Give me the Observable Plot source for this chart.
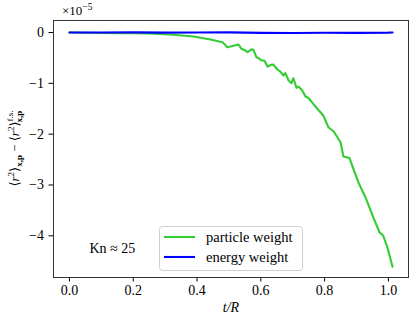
<!DOCTYPE html>
<html>
<head>
<meta charset="utf-8">
<script src="https://cdn.jsdelivr.net/npm/d3@7"></script>
<script src="https://cdn.jsdelivr.net/npm/@observablehq/plot@0.6"></script>
<style>
  html, body { margin: 0; padding: 0; background: #fff; }
  svg { display: block; }
  svg text { font-family: "Liberation Serif", "DejaVu Serif", serif !important; }
</style>
</head>
<body>
<div id="chart"></div>
<script>
// particle weight (green), values in units of 1e-5
const tParticle = [0, 0.05, 0.10, 0.15, 0.20, 0.25, 0.28, 0.326, 0.389, 0.442, 0.480, 0.495, 0.514, 0.530, 0.539, 0.552, 0.558, 0.571, 0.577, 0.586, 0.592, 0.602, 0.611, 0.621, 0.633, 0.639, 0.652, 0.661, 0.671, 0.677, 0.687, 0.696, 0.702, 0.712, 0.718, 0.730, 0.740, 0.749, 0.762, 0.777, 0.796, 0.812, 0.828, 0.840, 0.850, 0.859, 0.878, 0.890, 0.906, 0.928, 0.953, 0.972, 0.984, 0.997, 1.013];
const vParticle = [0, -0.005, -0.01, -0.012, -0.015, -0.02, -0.03, -0.045, -0.079, -0.138, -0.19, -0.29, -0.26, -0.236, -0.32, -0.354, -0.388, -0.33, -0.34, -0.486, -0.50, -0.55, -0.55, -0.67, -0.636, -0.63, -0.728, -0.768, -0.846, -0.80, -0.945, -0.998, -0.90, -1.089, -1.063, -1.142, -1.26, -1.285, -1.384, -1.50, -1.634, -1.864, -1.943, -2.06, -2.16, -2.44, -2.47, -2.68, -2.95, -3.24, -3.64, -3.93, -4.00, -4.23, -4.61];
// energy weight (blue)
const tEnergy = [0, 0.1, 0.2, 0.3, 0.4, 0.5, 0.6, 0.7, 0.8, 0.9, 1.0, 1.013];
const vEnergy = [0, 0, 0.002, -0.002, 0, 0.002, -0.008, -0.01, -0.006, -0.008, -0.003, 0];

const xTicks = [0, 0.2, 0.4, 0.6, 0.8, 1.0];
const yTicks = [0, -1, -2, -3, -4];
const seriesNames = ["particle weight", "energy weight"];
const seriesColors = ["#33cc33", "#0000ff"];

const particle = tParticle.map((t, i) => ({t, v: vParticle[i]}));
const energy = tEnergy.map((t, i) => ({t, v: vEnergy[i]}));

const FONT = "'Liberation Serif', 'DejaVu Serif', serif";

const svg = Plot.plot({
  width: 415,
  height: 322,
  marginLeft: 53,
  marginRight: 7,
  marginTop: 20,
  marginBottom: 45,
  style: {fontFamily: FONT, fontSize: "14px", background: "#fff", color: "#000"},
  x: {domain: [-0.05, 1.063]},
  y: {domain: [-4.82, 0.236]},
  marks: [
    Plot.axisX({ticks: xTicks, tickFormat: d => d.toFixed(1), tickSize: 4.5, tickPadding: 3, label: null, fontSize: 14}),
    Plot.axisY({ticks: yTicks, tickFormat: d => d === 0 ? "0" : "\u2212" + Math.abs(d), tickSize: 4.5, tickPadding: 5, label: null, fontSize: 14}),
    Plot.line(particle, {x: "t", y: "v", stroke: seriesColors[0], strokeWidth: 2.1}),
    Plot.line(energy, {x: "t", y: "v", stroke: seriesColors[1], strokeWidth: 2.1}),
    Plot.frame({stroke: "#333", strokeWidth: 1}),
    Plot.text(["Kn \u2248 25"], {frameAnchor: "bottom-left", dx: 36, dy: -29, textAnchor: "start", lineAnchor: "middle", fontSize: 14}),
    Plot.text(["t/R"], {frameAnchor: "bottom", dy: 30, lineAnchor: "middle", fontStyle: "italic", fontSize: 14})
  ]
});

document.getElementById("chart").appendChild(svg);

const s = d3.select(svg);

// offset text ×10^-5
const off = s.append("text").attr("x", 62).attr("y", 15).attr("text-anchor", "start")
  .style("font-family", FONT).attr("font-size", 13);
off.append("tspan").text("\u00d710");
off.append("tspan").attr("dy", -5).attr("font-size", 9.5).text("\u22125");

// y axis label
const yl = s.append("text")
  .attr("transform", "translate(19,148.5) rotate(-90)")
  .attr("text-anchor", "middle")
  .style("font-family", FONT)
  .attr("font-size", 13);
yl.append("tspan").text("\u27e8");
yl.append("tspan").attr("font-style", "italic").text("r");
yl.append("tspan").attr("font-size", 9).attr("dy", -5).text("2");
yl.append("tspan").attr("dy", 5).text("\u27e9");
yl.append("tspan").attr("font-size", 9).attr("font-weight", "bold").attr("dy", 3).text("x,p");
yl.append("tspan").attr("dy", -3).text(" \u2212 \u27e8");
yl.append("tspan").attr("font-style", "italic").text("r");
yl.append("tspan").attr("font-size", 9).attr("dy", -5).text("2");
yl.append("tspan").attr("dy", 5).text("\u27e9");
yl.append("tspan").attr("font-size", 9).attr("dy", -6).text("f.s.");
yl.append("tspan").attr("font-size", 9).attr("font-weight", "bold").attr("dx", -12).attr("dy", 9).text("x,p");

// legend
const lg = s.append("g");
lg.append("rect").attr("x", 159.5).attr("y", 226.5).attr("width", 143).attr("height", 44)
  .attr("rx", 3).attr("fill", "#fff").attr("fill-opacity", 0.8).attr("stroke", "#d0d0d0");
seriesNames.forEach((name, i) => {
  const yy = 237 + i * 20;
  lg.append("line").attr("x1", 164).attr("x2", 195).attr("y1", yy).attr("y2", yy)
    .attr("stroke", seriesColors[i]).attr("stroke-width", 2.1);
  lg.append("text").attr("x", 206).attr("y", yy).attr("dy", "0.32em").attr("text-anchor", "start")
    .style("font-family", FONT).attr("font-size", 14.5).text(name);
});
</script>
</body>
</html>
